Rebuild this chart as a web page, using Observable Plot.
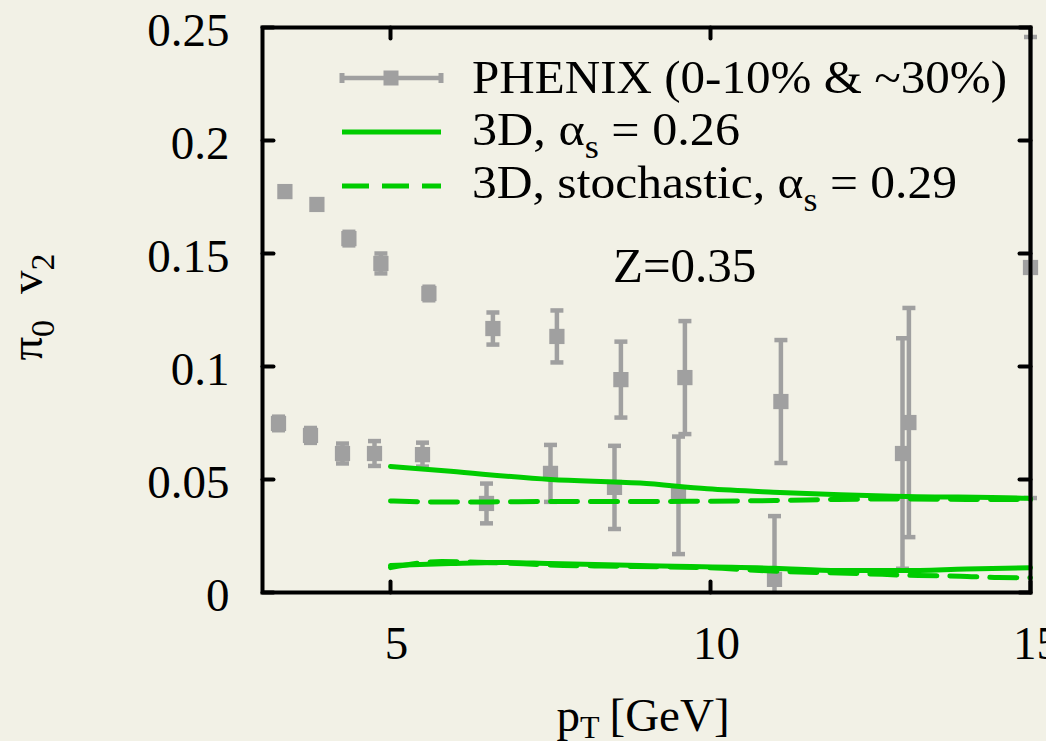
<!DOCTYPE html>
<html>
<head>
<meta charset="utf-8">
<script src="https://cdn.jsdelivr.net/npm/d3@7"></script>
<script src="https://cdn.jsdelivr.net/npm/@observablehq/plot@0.6"></script>
<style>
  html, body { margin: 0; padding: 0; background: #f2f1e6; }
  #chart { position: relative; width: 1046px; height: 741px; overflow: hidden; }
</style>
</head>
<body>
<div id="chart"></div>
<script>
// ---- data ----
const upperX   = [3.35, 3.85, 4.35, 4.85, 5.6, 6.6, 7.6, 8.6, 9.6, 11.1, 13.1, 15.0];
const upperY   = [0.1774, 0.1717, 0.1566, 0.1456, 0.1323, 0.1168, 0.1133, 0.0942, 0.0951, 0.0845, 0.0752, 0.1438];
const upperErr = [0.002, 0.002, 0.003, 0.0044, 0.003, 0.0071, 0.0115, 0.0168, 0.025, 0.0272, 0.0507, 0.102];

const lowerX   = [3.25, 3.75, 4.25, 4.75, 5.5, 6.5, 7.5, 8.5, 9.5, 11.0, 13.0];
const lowerY   = [0.0748, 0.0695, 0.0615, 0.0615, 0.061, 0.0394, 0.0527, 0.0465, 0.043, 0.0058, 0.0615];
const lowerErr = [0.003, 0.0033, 0.0044, 0.0055, 0.0053, 0.0088, 0.0126, 0.0184, 0.026, 0.028, 0.051];

const solidHiX = [5, 5.94, 7.5, 8.9, 9.95, 10.98, 12.03, 13.07, 14.95, 15];
const solidHiY = [0.0558, 0.0536, 0.0500, 0.0484, 0.0459, 0.0444, 0.0432, 0.0425, 0.0417, 0.0416];
const dashHiX  = [5, 6, 7, 8, 9, 10, 11, 12, 13, 14, 15];
const dashHiY  = [0.0405, 0.0400, 0.0402, 0.0403, 0.0403, 0.0404, 0.0407, 0.0412, 0.0414, 0.0412, 0.0411];

const solidLoX = [5, 5.94, 6.72, 7.5, 8.9, 11.0, 12.0, 13.0, 14.0, 15];
const solidLoY = [0.0119, 0.0128, 0.0133, 0.0128, 0.0119, 0.0107, 0.0097, 0.0097, 0.0104, 0.0110];
const dashLoX  = [5, 5.8, 6.5, 7.7, 8.3, 9.9, 11.1, 12.3, 13.25, 13.9, 14.5, 15];
const dashLoY  = [0.0110, 0.0137, 0.0133, 0.0120, 0.0117, 0.0110, 0.0093, 0.0084, 0.0075, 0.0072, 0.0066, 0.0065];

const xTicks = [5, 10, 15];
const xTickLabels = ["5", "10", "15"];
const yTicks = [0, 0.05, 0.1, 0.15, 0.2, 0.25];
const yTickLabels = ["0", "0.05", "0.1", "0.15", "0.2", "0.25"];

const legendLabels = ["PHENIX (0-10% & ~30%)", "3D, α|s| = 0.26", "3D, stochastic, α|s| = 0.29"];
const annotation = "Z=0.35";

// ---- build tables ----
const upper = upperX.map((x, i) => ({x, y: upperY[i], lo: upperY[i] - upperErr[i], hi: upperY[i] + upperErr[i]}));
const lower = lowerX.map((x, i) => ({x, y: lowerY[i], lo: lowerY[i] - lowerErr[i], hi: lowerY[i] + lowerErr[i]}));
const toPts = (xs, ys) => xs.map((x, i) => ({x, y: ys[i]}));

// ---- styles ----
const FONT = "'Liberation Serif', 'Times New Roman', Times, serif";
const FS = 47;
const GRAY = "#a0a0a0";
const GREEN = "#00cc00";
const BG = "#f2f1e6";

const capSymbol = {draw(ctx, size) { const r = Math.sqrt(size / Math.PI); ctx.moveTo(-r, 0); ctx.lineTo(r, 0); }};
const tickShape = {draw(ctx, l) { ctx.moveTo(0, 0); ctx.lineTo(0, -l); }};

function errMarks(data, clip) {
  return [
    Plot.ruleX(data, {x: "x", y1: "lo", y2: "hi", stroke: GRAY, strokeWidth: 4.5, clip}),
    Plot.dot(data, {x: "x", y: "lo", symbol: capSymbol, r: 6.5, stroke: GRAY, fill: "none", strokeWidth: 4.5, clip}),
    Plot.dot(data, {x: "x", y: "hi", symbol: capSymbol, r: 6.5, stroke: GRAY, fill: "none", strokeWidth: 4.5, clip}),
    Plot.dot(data, {x: "x", y: "y", symbol: "square", r: 8.6, fill: GRAY, stroke: "none"})
  ];
}

const plot = Plot.plot({
  width: 1046,
  height: 741,
  marginLeft: 262,
  marginRight: 16,
  marginTop: 27,
  marginBottom: 149,
  style: {background: BG, fontFamily: FONT, fontSize: FS + "px", color: "black"},
  x: {domain: [3, 15], label: null},
  y: {domain: [0, 0.25], label: null},
  marks: [
    ...errMarks(upper, false),
    ...errMarks(lower, true),
    Plot.line(toPts(solidHiX, solidHiY), {x: "x", y: "y", stroke: GREEN, strokeWidth: 5, curve: "monotone-x"}),
    Plot.line(toPts(dashHiX, dashHiY), {x: "x", y: "y", stroke: GREEN, strokeWidth: 5, strokeDasharray: "27,13", curve: "monotone-x"}),
    Plot.line(toPts(solidLoX, solidLoY), {x: "x", y: "y", stroke: GREEN, strokeWidth: 5, curve: "monotone-x"}),
    Plot.line(toPts(dashLoX, dashLoY), {x: "x", y: "y", stroke: GREEN, strokeWidth: 5, strokeDasharray: "27,13", curve: "monotone-x"}),
    // inward ticks on all four sides
    Plot.vector(xTicks, {x: d => d, frameAnchor: "bottom", length: 11, rotate: 0, anchor: "start", shape: tickShape, stroke: "black", strokeWidth: 4}),
    Plot.vector(xTicks, {x: d => d, frameAnchor: "top", length: 11, rotate: 180, anchor: "start", shape: tickShape, stroke: "black", strokeWidth: 4}),
    Plot.vector(yTicks, {y: d => d, frameAnchor: "left", length: 11, rotate: 90, anchor: "start", shape: tickShape, stroke: "black", strokeWidth: 4}),
    Plot.vector(yTicks, {y: d => d, frameAnchor: "right", length: 11, rotate: -90, anchor: "start", shape: tickShape, stroke: "black", strokeWidth: 4}),
    Plot.frame({stroke: "black", strokeWidth: 4}),
    Plot.axisX({ticks: xTicks, tickSize: 0, tickPadding: 33, dx: 6, fontSize: FS, fill: "black",
      tickFormat: d => xTickLabels[xTicks.indexOf(d)], label: null}),
    Plot.axisY({ticks: yTicks, tickSize: 0, tickPadding: 33, dy: 3, fontSize: FS, fill: "black",
      tickFormat: d => yTickLabels[yTicks.indexOf(d)], label: null})
  ]
});

// ---- axis titles, legend, annotation (real text) ----
const svg = d3.select(plot);
const g = svg.append("g").attr("font-family", FONT).attr("font-size", FS).attr("fill", "black");

function richText(sel, str, subSize, subShift) {
  // "|s|" marks a subscript
  const parts = str.split("|");
  parts.forEach((p, i) => {
    if (!p) return;
    if (i % 2 === 1) {
      sel.append("tspan").attr("font-size", subSize).attr("dy", subShift).text(p);
    } else {
      const t = sel.append("tspan").text(p);
      if (i > 0) t.attr("dy", -subShift);
    }
  });
}

// y axis title: π0  v2
const yt = g.append("text").attr("transform", "translate(42,307) rotate(-90)").attr("text-anchor", "middle");
yt.append("tspan").text("π");
yt.append("tspan").attr("font-size", 34).attr("dy", 12).text("0");
yt.append("tspan").attr("dy", -12).attr("dx", 26).text("v");
yt.append("tspan").attr("font-size", 34).attr("dy", 12).text("2");

// x axis title: pT [GeV]
const xt = g.append("text").attr("x", 643).attr("y", 731).attr("text-anchor", "middle");
xt.append("tspan").text("p");
xt.append("tspan").attr("font-size", 32).attr("dy", 7).text("T");
xt.append("tspan").attr("dy", -7).attr("dx", 10).text("[GeV]");

// legend
const lg = svg.append("g");
// row 1: PHENIX sample (errorbar style)
lg.append("line").attr("x1", 342).attr("x2", 441).attr("y1", 78).attr("y2", 78).attr("stroke", GRAY).attr("stroke-width", 4.5);
lg.append("line").attr("x1", 342).attr("x2", 342).attr("y1", 73).attr("y2", 83).attr("stroke", GRAY).attr("stroke-width", 5);
lg.append("line").attr("x1", 441).attr("x2", 441).attr("y1", 73).attr("y2", 83).attr("stroke", GRAY).attr("stroke-width", 5);
lg.append("rect").attr("x", 383.5).attr("y", 70.5).attr("width", 15).attr("height", 15).attr("fill", GRAY);
// row 2: solid
lg.append("line").attr("x1", 342).attr("x2", 441).attr("y1", 132).attr("y2", 132).attr("stroke", GREEN).attr("stroke-width", 5);
// row 3: dashed
lg.append("line").attr("x1", 342).attr("x2", 441).attr("y1", 186).attr("y2", 186).attr("stroke", GREEN).attr("stroke-width", 5).attr("stroke-dasharray", "27,13");

const rowsY = [93, 145, 198];
const rowsLen = [535, 268, 485];
legendLabels.forEach((lab, i) => {
  const t = g.append("text").attr("x", 472).attr("y", rowsY[i]).attr("text-anchor", "start")
    .attr("textLength", rowsLen[i]).attr("lengthAdjust", "spacingAndGlyphs").style("white-space", "pre");
  richText(t, lab, 34, 13);
});

// annotation
g.append("text").attr("x", 613).attr("y", 282).attr("text-anchor", "start").attr("font-size", 49).text(annotation);

document.getElementById("chart").appendChild(plot);
</script>
</body>
</html>
